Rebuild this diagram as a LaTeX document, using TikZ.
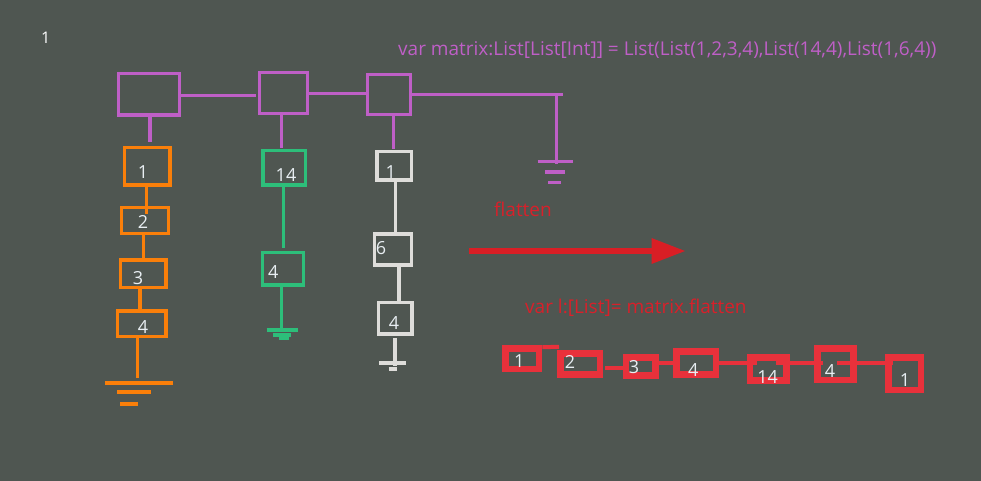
\documentclass[tikz,border=0pt]{standalone}
\usepackage{fontspec}
\setmainfont{Open Sans}
\usetikzlibrary{arrows.meta}
\definecolor{bg}{RGB}{79,86,81}
\definecolor{pur}{RGB}{191,95,199}
\definecolor{org}{RGB}{250,127,10}
\definecolor{grn}{RGB}{45,190,122}
\definecolor{wht}{RGB}{222,221,218}
\definecolor{rbox}{RGB}{232,49,59}
\definecolor{rarr}{RGB}{217,30,37}
\definecolor{rtxt}{RGB}{216,32,42}
\definecolor{lbl}{RGB}{232,238,242}
\tikzset{
  pbox/.style={draw=pur, line width=3.3pt, inner sep=0pt},
  obox/.style={draw=org, line width=3.3pt, inner sep=0pt},
  gbox/.style={draw=grn, line width=3.3pt, inner sep=0pt},
  wbox/.style={draw=wht, line width=3.3pt, inner sep=0pt},
  rbx/.style={draw=rbox, line width=6.8pt, inner sep=0pt},
  pl/.style={draw=pur, line width=3.3pt},
  ol/.style={draw=org, line width=3.3pt},
  gl/.style={draw=grn, line width=3.3pt},
  wl/.style={draw=wht, line width=3.3pt},
  rl/.style={draw=rbox, line width=4pt},
  num/.style={text=lbl, inner sep=0pt, font=\fontsize{18}{20}\selectfont},
  code/.style={inner sep=0pt, anchor=base west, font=\fontsize{19}{22}\selectfont}
}
\begin{document}
\begin{tikzpicture}[x=1pt,y=-1pt]
\fill[bg] (0,0) rectangle (981,481);
\useasboundingbox (0,0) rectangle (981,481);

% texts
\node[code, text=white, font=\fontsize{16}{18}\selectfont] (one) at (41,43.3) {1};
\node[code, text=pur] (ctext) at (398,56) {var matrix:List[List[Int]] = List(List(1,2,3,4),List(14,4),List(1,6,4))};
\node[code, text=rtxt] (ftext) at (494,216.7) {flatten};
\node[code, text=rtxt] (ltext) at (525,313.3) {var l:[List]= matrix.flatten};

% purple outer list
\node[pbox, minimum width=61pt, minimum height=41.4pt] (p1) at (148.8,94.3) {};
\node[pbox, minimum width=47.7pt, minimum height=40.7pt] (p2) at (283.5,93) {};
\node[pbox, minimum width=43pt, minimum height=40pt] (p3) at (388.8,94.3) {};
\coordinate (pe) at (563,94.7);
\coordinate (pc) at (556.7,94.7);
\coordinate (pg) at (556.7,164);
\draw[pl] ([yshift=-1.4pt]p1.east) -- ([xshift=-2.3pt,yshift=-2.7pt]p2.west);
\draw[pl] ([yshift=-0.7pt]p2.east) -- ([yshift=0.6pt]p3.west);
\draw[pl] ([yshift=-0.4pt]p3.east) -- (pe);
\draw[pl] (pc) -- (pg);
\draw[pl] (537.7,161.7) -- (572.7,161.7);
\draw[pl] (545,172) -- (565,172);
\draw[pl] (548,182.7) -- (561,182.7);

% orange list
\node[obox, minimum width=45.4pt, minimum height=37.4pt] (o1) at (147.3,166.3) {};
\node[obox, minimum width=46.7pt, minimum height=25.7pt] (o2) at (145,220.5) {};
\node[obox, minimum width=45.4pt, minimum height=27.4pt] (o3) at (143.3,273.7) {};
\node[obox, minimum width=48.4pt, minimum height=25.4pt] (o4) at (141.8,323.7) {};
\node[num] (o1t) at (143,172) {1};
\node[num] (o2t) at (143,222) {2};
\node[num] (o3t) at (138,278) {3};
\node[num] (o4t) at (143,326.7) {4};
\coordinate (og) at (137.7,378);
\draw[pl] ([xshift=1.2pt]p1.south) -- ([xshift=2.7pt,yshift=4pt]o1.north);
\draw[ol] ([xshift=-0.6pt]o1.south) -- ([xshift=1.7pt,yshift=-8pt]o2.north);
\draw[ol] ([xshift=-1.3pt]o2.south) -- ([xshift=0.4pt]o3.north);
\draw[ol] ([xshift=-3.3pt]o3.south) -- ([xshift=-1.8pt]o4.north);
\draw[ol] ([xshift=-4.1pt]o4.south) -- (og);
\draw[ol, line width=3.7pt] (105,382.7) -- (172.7,382.7);
\draw[ol, line width=3.7pt] (117,391.7) -- (150.7,391.7);
\draw[ol, line width=3.7pt] (120,403.7) -- (137.7,403.7);

% green list
\node[gbox, minimum width=42.4pt, minimum height=34.4pt] (g1) at (284.2,167.8) {};
\node[gbox, minimum width=40.7pt, minimum height=32.4pt] (g2) at (283,268.8) {};
\node[num] (g1t) at (286,175) {14};
\node[num] (g2t) at (273.3,271.7) {4};
\coordinate (gg) at (281.7,329.3);
\draw[pl] ([xshift=-1.8pt]p2.south) -- ([xshift=-2.5pt,yshift=1pt]g1.north);
\draw[gl] ([xshift=-0.5pt]g1.south) -- ([xshift=0.7pt,yshift=2.7pt]g2.north);
\draw[gl] ([xshift=-1.3pt,yshift=3.7pt]g2.south) -- (gg);
\draw[gl] (266.7,330) -- (297.7,330);
\draw[gl] (273,335) -- (290.7,335);
\draw[gl] (279,338.3) -- (289,338.3);

% white list
\node[wbox, minimum width=34.7pt, minimum height=28.4pt] (w1) at (394.3,165.8) {};
\node[wbox, minimum width=36.7pt, minimum height=31.1pt] (w2) at (393,249.5) {};
\node[wbox, minimum width=33.4pt, minimum height=31.4pt] (w3) at (395.3,318.3) {};
\node[num] (w1t) at (390.7,171.7) {1};
\node[num] (w2t) at (381,248.3) {6};
\node[num] (w3t) at (394,323.3) {4};
\coordinate (wg) at (395,365.7);
\draw[pl] ([xshift=4.9pt]p3.south) -- ([xshift=-0.6pt,yshift=1pt]w1.north);
\draw[wl] ([xshift=1.4pt]w1.south) -- ([xshift=2.7pt]w2.north);
\draw[wl] ([xshift=6pt]w2.south) -- ([xshift=3.7pt]w3.north);
\draw[wl] ([xshift=-0.3pt,yshift=-2.6pt]w3.south) -- (wg);
\draw[wl, line width=3.7pt] (379,363) -- (405.7,363);
\draw[wl, line width=3.7pt] (388.7,369) -- (396.7,369);

% arrow
\coordinate (a1) at (469.3,251);
\coordinate (a2) at (686,251);
\draw[draw=rarr, line width=6.7pt, -{Triangle[length=34.3pt,width=23.7pt]}] (a1) -- (a2);

% flattened list
\node[rbx, minimum width=33.8pt, minimum height=20.5pt] (r1) at (522,358.7) {};
\node[rbx, minimum width=39.8pt, minimum height=20.9pt] (r2) at (580,363.8) {};
\node[rbx, minimum width=29.5pt, minimum height=18.2pt] (r3) at (640.8,366.5) {};
\node[rbx, minimum width=39.8pt, minimum height=22.6pt] (r4) at (696,363) {};
\node[rbx, minimum width=36.5pt, minimum height=23.2pt] (r5) at (768.3,369) {};
\node[rbx, minimum width=35.9pt, minimum height=31.5pt] (r6) at (835.3,364.2) {};
\node[rbx, minimum width=32.5pt, minimum height=32.5pt] (r7) at (904.7,373.7) {};
\draw[rl] ([yshift=-2pt]r1.north east) -- ([xshift=2.3pt,yshift=3pt]r2.north west);
\draw[rl] ([xshift=1.7pt,yshift=-3.9pt]r2.east) -- ([xshift=0.6pt,yshift=-1.2pt]r3.west);
\draw[rl] ([yshift=3.8pt]r3.east) -- ([yshift=0.3pt]r4.west);
\draw[rl] ([yshift=0.3pt]r4.east) -- ([xshift=10pt,yshift=6.3pt]r5.west);
\draw[rl] ([xshift=7.7pt,yshift=6.3pt]r5.center) -- ([xshift=-12pt,yshift=1.5pt]r6.center);
\draw[rl] ([xshift=1.4pt,yshift=1.5pt]r6.center) -- ([xshift=-11.4pt,yshift=11pt]r7.center);
\node[num] (r1t) at (519.3,360.7) {1};
\node[num] (r2t) at (570,362.3) {2};
\node[num] (r3t) at (634,366.7) {3};
\node[num] (r4t) at (693.3,370) {4};
\node[num] (r5t) at (767.7,376.7) {14};
\node[num] (r6t) at (830,370.7) {4};
\node[num] (r7t) at (905,380) {1};
\end{tikzpicture}
\end{document}
